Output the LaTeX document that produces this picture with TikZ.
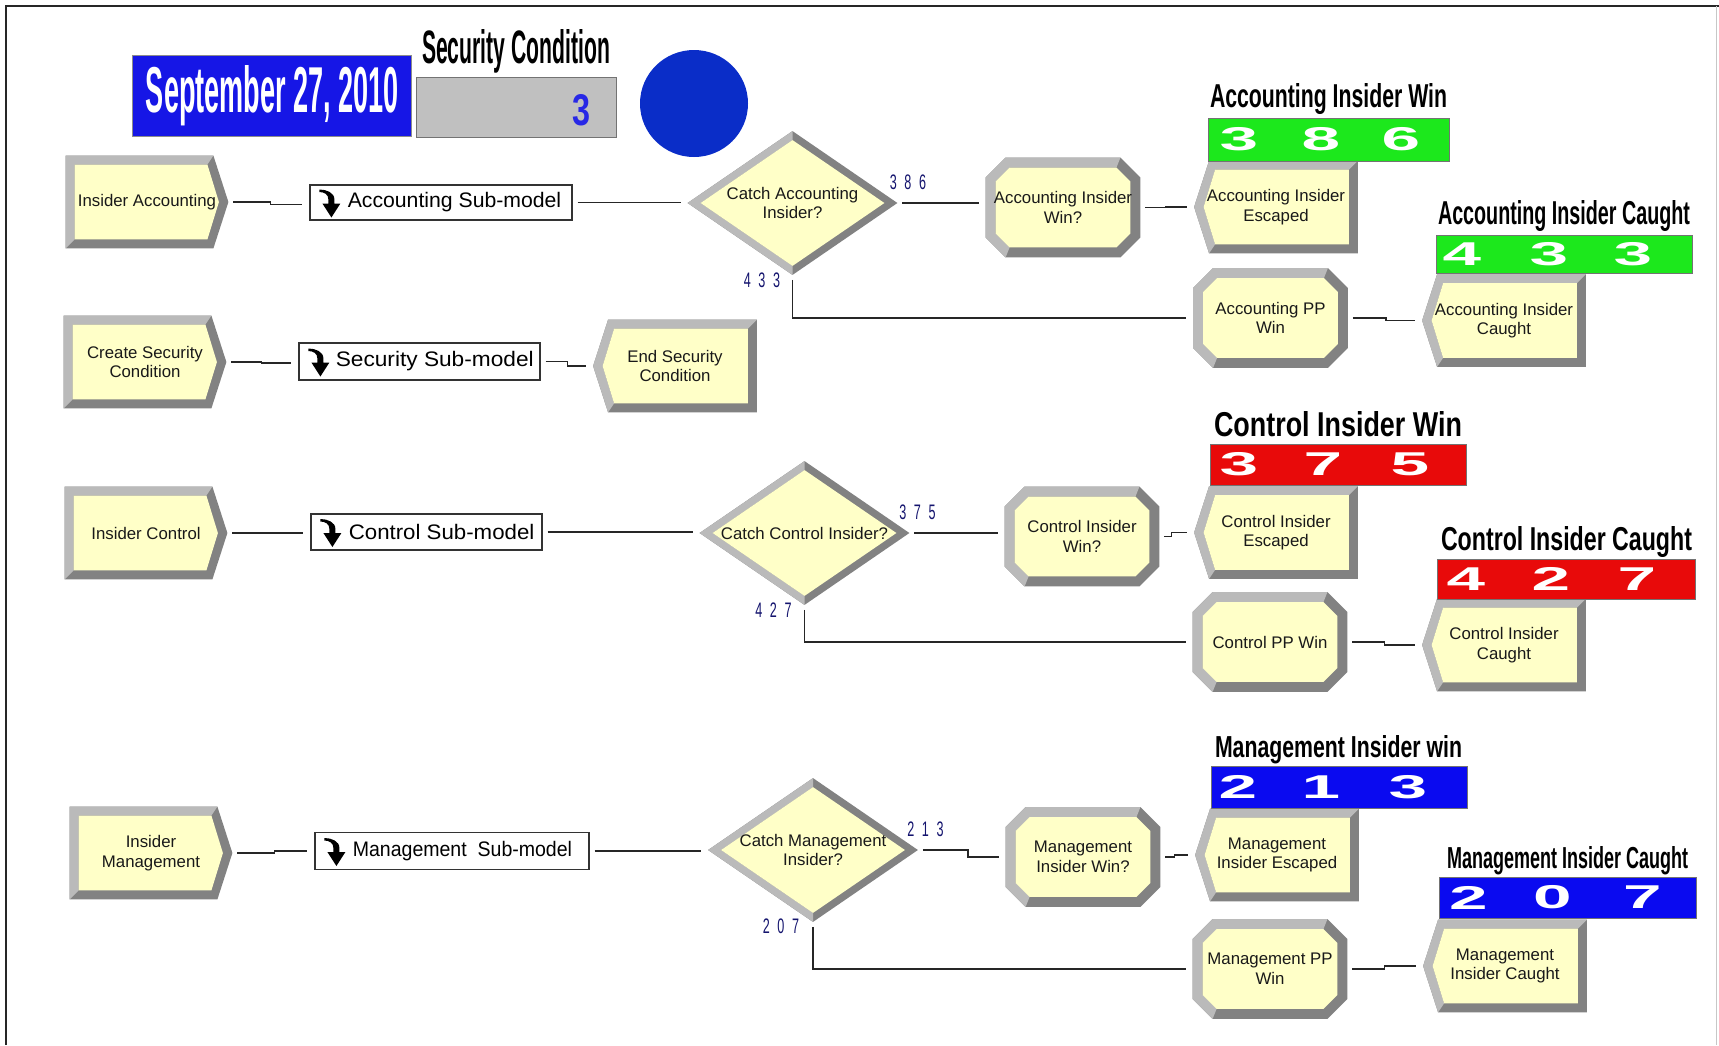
\documentclass[tikz,border=0pt]{standalone}
\usepackage{fontspec}
\setmainfont{Liberation Sans}
\usepackage{graphicx}
\usetikzlibrary{calc}
\pgfdeclarelayer{bg}
\pgfsetlayers{bg,main}

\definecolor{modfill}{RGB}{255,255,200}
\definecolor{bevlight}{RGB}{186,186,186}
\definecolor{bevdark}{RGB}{130,130,130}
\definecolor{cntgreen}{RGB}{28,232,28}
\definecolor{cntred}{RGB}{232,10,10}
\definecolor{cntblue}{RGB}{10,10,240}
\definecolor{dateblue}{RGB}{22,22,230}
\definecolor{dotblue}{RGB}{10,45,200}
\definecolor{tallynavy}{RGB}{20,20,110}
\definecolor{condgrey}{RGB}{192,192,192}
\definecolor{condval}{RGB}{40,40,230}

\newcommand\modfont{\fontsize{8.4}{9.8}\selectfont}
\newcommand\subfont{\fontsize{10.5}{12}\selectfont}

% Create module: body with a point on the right
\newcommand\createbody[1]{%
\begin{pgfonlayer}{bg}
\fill[bevdark] (#1.north west) -- ($(#1.north east)+(-15,0)$) -- (#1.east) -- ($(#1.south east)+(-15,0)$) -- (#1.south west) -- cycle;
\fill[bevlight] (#1.south west) -- (#1.north west) -- ($(#1.north east)+(-15,0)$) -- ($(#1.north east)+(-21,9)$) -- ($(#1.north west)+(9,9)$) -- ($(#1.south west)+(9,-9)$) -- cycle;
\fill[modfill] ($(#1.north west)+(9,9)$) -- ($(#1.north east)+(-21,9)$) -- ($(#1.east)+(-9.5,0)$) -- ($(#1.south east)+(-21,-9)$) -- ($(#1.south west)+(9,-9)$) -- cycle;
\end{pgfonlayer}}

% Dispose module: body with a point on the left
\newcommand\disposebody[1]{%
\begin{pgfonlayer}{bg}
\fill[bevdark] ($(#1.north west)+(15,0)$) -- (#1.north east) -- (#1.south east) -- ($(#1.south west)+(15,0)$) -- (#1.west) -- cycle;
\fill[bevlight] (#1.north east) -- ($(#1.north west)+(15,0)$) -- (#1.west) -- ($(#1.south west)+(15,0)$) -- ($(#1.south west)+(21,-9)$) -- ($(#1.west)+(9.5,0)$) -- ($(#1.north west)+(21,9)$) -- ($(#1.north east)+(-9,9)$) -- cycle;
\fill[modfill] ($(#1.north west)+(21,9)$) -- ($(#1.north east)+(-9,9)$) -- ($(#1.south east)+(-9,-9)$) -- ($(#1.south west)+(21,-9)$) -- ($(#1.west)+(9.5,0)$) -- cycle;
\end{pgfonlayer}}

% Process module: chamfered rectangle
\newcommand\octbody[1]{%
\begin{pgfonlayer}{bg}
\fill[bevdark] ($(#1.north west)+(20,0)$) -- ($(#1.north east)+(-20,0)$) -- ($(#1.north east)+(0,20)$) -- ($(#1.south east)+(0,-20)$) -- ($(#1.south east)+(-20,0)$) -- ($(#1.south west)+(20,0)$) -- ($(#1.south west)+(0,-20)$) -- ($(#1.north west)+(0,20)$) -- cycle;
\fill[bevlight] ($(#1.south west)+(20,0)$) -- ($(#1.south west)+(0,-20)$) -- ($(#1.north west)+(0,20)$) -- ($(#1.north west)+(20,0)$) -- ($(#1.north east)+(-20,0)$) -- ($(#1.north east)+(-24,10)$) -- ($(#1.north west)+(24,10)$) -- ($(#1.north west)+(10,24)$) -- ($(#1.south west)+(10,-24)$) -- ($(#1.south west)+(24,-10)$) -- cycle;
\fill[modfill] ($(#1.north west)+(24,10)$) -- ($(#1.north east)+(-24,10)$) -- ($(#1.north east)+(-10,24)$) -- ($(#1.south east)+(-10,-24)$) -- ($(#1.south east)+(-24,-10)$) -- ($(#1.south west)+(24,-10)$) -- ($(#1.south west)+(10,-24)$) -- ($(#1.north west)+(10,24)$) -- cycle;
\end{pgfonlayer}}

% Decide module: diamond
\newcommand\diabody[1]{%
\begin{pgfonlayer}{bg}
\fill[bevdark] (#1.north) -- (#1.east) -- (#1.south) -- (#1.west) -- cycle;
\fill[bevlight] (#1.west) -- (#1.north) -- ($(#1.north)+(0,9)$) -- ($(#1.west)+(13,0)$) -- ($(#1.south)+(0,-9)$) -- (#1.south) -- cycle;
\fill[modfill] ($(#1.north)+(0,9)$) -- ($(#1.east)+(-13,0)$) -- ($(#1.south)+(0,-9)$) -- ($(#1.west)+(13,0)$) -- cycle;
\end{pgfonlayer}}

% Sub-model icon: bent arrow pointing down
\newcommand\subicon[1]{%
\begin{scope}[shift={(#1.west)}]
\fill[black] (10,-13) .. controls (17,-13) and (25,-10) .. (25,-3) -- (25,1) -- (31,1) -- (22,15) -- (13,1) -- (19,1) -- (19,-3) .. controls (19,-8) and (15,-10.5) .. (10,-10.5) -- cycle;
\end{scope}}

\tikzset{
  module/.style={inner sep=0pt, align=center, font=\modfont, text=black!90},
  createmod/.style={module, minimum width=81pt, minimum height=46pt},
  disposemod/.style={module, minimum width=81.5pt, minimum height=46pt},
  octmod/.style={module, minimum width=77pt, minimum height=49.5pt},
  decidemod/.style={module, minimum width=104.5pt, minimum height=71.5pt},
  subbox/.style={draw=black!80, line width=0.6pt, fill=white, inner sep=0pt},
  subtxt/.style={inner sep=0pt, anchor=west, font=\subfont},
  conn/.style={draw=black!85, line width=0.65pt, shorten <=2.5pt, shorten >=3.5pt},
  ttl/.style={inner sep=0pt, anchor=base},
  cntbox/.style={inner sep=0pt, draw=black!55, line width=0.5pt},
  cdigit/.style={inner sep=0pt, text=white, font=\fontsize{16.5}{18}\selectfont\bfseries},
  tally/.style={inner sep=0pt, text=tallynavy, font=\fontsize{10.5}{12}\selectfont},
}

\newcommand\tallytext[3]{\scalebox{0.6}[1]{#1\hspace{6.4pt}#2\hspace{6.4pt}#3}}
\newcommand\wide[1]{\scalebox{2.1}[1]{#1}}

\begin{document}
\begin{tikzpicture}[x=0.5pt,y=-0.5pt]
\useasboundingbox (0,0) rectangle (1719,1045);
\begin{pgfonlayer}{bg}
\fill[white] (0,0) rectangle (1719,1045);
\end{pgfonlayer}

% frame
\draw[black!85, line width=1pt] (5.5,1045) -- (5.5,5.5) -- (1719,5.5);
\draw[black!22, line width=0.5pt] (1716,5.5) -- (1716,1045);

% header: date, security condition, indicator
\node[fill=dateblue, draw=black!45, line width=0.5pt, minimum width=139.5pt, minimum height=40.5pt, inner sep=0pt] (datebox) at (271.5,95.5) {};
\node[ttl, text=white] (datetxt) at (272.5,112) {\resizebox{126.5pt}{23.5pt}{\bfseries September 27, 2010}};
\node[ttl] (sectitle) at (516,63.5) {\resizebox{94pt}{17pt}{\bfseries Security Condition}};
\node[fill=condgrey, draw=black!55, line width=0.5pt, minimum width=100pt, minimum height=30pt, inner sep=0pt] (secbox) at (516,107) {};
\node[ttl, text=condval] (secval) at (581,125) {\resizebox{9pt}{15.5pt}{\bfseries 3}};
\fill[dotblue] (694,103.5) circle[x radius=27pt, y radius=26.75pt];

% ---------------- accounting row
\node[createmod] (ia) at (147,202) {Insider Accounting};
\createbody{ia}
\node[subbox, minimum width=131pt, minimum height=17.5pt] (accsub) at (441,202.5) {};
\subicon{accsub}
\node[subtxt] (accsubtxt) at ([xshift=19pt]accsub.west) {\scalebox{1.01}[1]{Accounting Sub-model}};
\node[decidemod] (catchA) at (792.5,203) {Catch Accounting\\Insider?};
\diabody{catchA}
\node[octmod] (accwin) at (1063,207.5) {Accounting Insider\\Win?};
\octbody{accwin}
\node[disposemod] (accesc) at (1276,207) {Accounting Insider\\Escaped};
\disposebody{accesc}
\node[octmod] (accpp) at (1270.5,318) {Accounting PP\\Win};
\octbody{accpp}
\node[disposemod] (acccaught) at (1504,320.5) {Accounting Insider\\Caught};
\disposebody{acccaught}

\node[tally] (t386) at (908,182) {\tallytext386};
\node[tally] (t433) at (762,280) {\tallytext433};

\node[ttl] (aiwt) at (1328.5,107) {\resizebox{118.5pt}{12pt}{\bfseries Accounting Insider Win}};
\node[cntbox, fill=cntgreen, minimum width=120.5pt, minimum height=21.5pt] (g1) at (1328.5,139.5) {};
\node[cdigit] (g1a) at (1239,139.5) {\wide{3}};
\node[cdigit] (g1b) at (1321,139.5) {\wide{8}};
\node[cdigit] (g1c) at (1401,139.5) {\wide{6}};

\node[ttl] (aict) at (1564,224) {\resizebox{126pt}{12pt}{\bfseries Accounting Insider Caught}};
\node[cntbox, fill=cntgreen, minimum width=128pt, minimum height=19pt] (g2) at (1564,254) {};
\node[cdigit] (g2a) at (1462,254) {\wide{4}};
\node[cdigit] (g2b) at (1549,254) {\wide{3}};
\node[cdigit] (g2c) at (1633,254) {\wide{3}};

\draw[conn] (ia.east) -- ++(42,0) |- ([yshift=-1pt]accsub.west);
\draw[conn] (accsub.east) -- (accsub.east -| catchA.west);
\draw[conn] (catchA.east) -- (catchA.east -| accwin.west);
\draw[conn] (accwin.east) -- ++(25,0) |- (accesc.west);
\draw[conn] (catchA.south) |- (accpp.west);
\draw[conn] (accpp.east) -- ++(38,0) |- (acccaught.west);

% ---------------- security row
\node[createmod] (csc) at (145,362) {Create Security\\Condition};
\createbody{csc}
\node[subbox, minimum width=120.5pt, minimum height=18.5pt] (secsub) at (419.5,361.5) {};
\subicon{secsub}
\node[subtxt] (secsubtxt) at ([xshift=18.5pt]secsub.west) {\scalebox{1.08}[1]{Security Sub-model}};
\node[disposemod] (esc) at (675,366) {End Security\\Condition};
\disposebody{esc}

\draw[conn] (csc.east) -- ++(35,0) |- ([yshift=-0.8pt]secsub.west);
\draw[conn] (secsub.east) -- ++(27,0) |- (esc.west);

% ---------------- control row
\node[createmod] (ictl) at (146,533) {Insider Control};
\createbody{ictl}
\node[subbox, minimum width=115.5pt, minimum height=18pt] (ctlsub) at (426.5,532) {};
\subicon{ctlsub}
\node[subtxt] (ctlsubtxt) at ([xshift=19pt]ctlsub.west) {\scalebox{1.06}[1]{Control Sub-model}};
\node[decidemod] (catchC) at (804.5,533) {Catch Control Insider?};
\diabody{catchC}
\node[octmod] (ctlwin) at (1082,536.5) {Control Insider\\Win?};
\octbody{ctlwin}
\node[disposemod] (ctlesc) at (1276,532.5) {Control Insider\\Escaped};
\disposebody{ctlesc}
\node[octmod] (ctlpp) at (1270,642) {Control PP Win};
\octbody{ctlpp}
\node[disposemod] (ctlcaught) at (1504,645) {Control Insider\\Caught};
\disposebody{ctlcaught}

\node[tally] (t375) at (917.5,512.5) {\tallytext375};
\node[tally] (t427) at (773.5,610) {\tallytext427};

\node[ttl] (ciwt) at (1338,436) {\resizebox{124pt}{12.5pt}{\bfseries Control Insider Win}};
\node[cntbox, fill=cntred, minimum width=128pt, minimum height=20.5pt] (r1) at (1338,464.5) {};
\node[cdigit] (r1a) at (1239,464.5) {\wide{3}};
\node[cdigit] (r1b) at (1323,464.5) {\wide{7}};
\node[cdigit] (r1c) at (1410,464.5) {\wide{5}};

\node[ttl] (cict) at (1566.5,550) {\resizebox{125.5pt}{12pt}{\bfseries Control Insider Caught}};
\node[cntbox, fill=cntred, minimum width=129pt, minimum height=20pt] (r2) at (1566,579) {};
\node[cdigit] (r2a) at (1466,579) {\wide{4}};
\node[cdigit] (r2b) at (1551,579) {\wide{2}};
\node[cdigit] (r2c) at (1637,579) {\wide{7}};

\draw[conn] (ictl.east) -- ++(42,0) |- ([yshift=-0.5pt]ctlsub.west);
\draw[conn] (ctlsub.east) -- (ctlsub.east -| catchC.west);
\draw[conn] (catchC.east) -- (catchC.east -| ctlwin.west);
\draw[conn] (ctlwin.east) -- ++(12,0) |- (ctlesc.west);
\draw[conn] (catchC.south) |- (ctlpp.west);
\draw[conn] (ctlpp.east) -- ++(37,0) |- (ctlcaught.west);

% ---------------- management row
\node[createmod] (imgmt) at (151,853) {Insider\\Management};
\createbody{imgmt}
\node[subbox, minimum width=137pt, minimum height=18.5pt] (mgmtsub) at (452,851) {};
\subicon{mgmtsub}
\node[subtxt] (mgmtsubtxt) at ([xshift=19pt]mgmtsub.west) {\scalebox{0.93}[1]{Management\ \ Sub-model}};
\node[decidemod] (catchM) at (813,850) {Catch Management\\Insider?};
\diabody{catchM}
\node[octmod] (mgmtwin) at (1083,857) {Management\\Insider Win?};
\octbody{mgmtwin}
\node[disposemod] (mgmtesc) at (1277,855) {Management\\Insider Escaped};
\disposebody{mgmtesc}
\node[octmod] (mgmtpp) at (1270,969) {Management PP\\Win};
\octbody{mgmtpp}
\node[disposemod] (mgmtcaught) at (1505,966) {Management\\Insider Caught};
\disposebody{mgmtcaught}

\node[tally] (t213) at (925.5,829) {\tallytext213};
\node[tally] (t207) at (781,926.5) {\tallytext207};

\node[ttl] (miwt) at (1338.5,757) {\resizebox{123.5pt}{11pt}{\bfseries Management Insider win}};
\node[cntbox, fill=cntblue, minimum width=128pt, minimum height=21pt] (b1) at (1339,787) {};
\node[cdigit] (b1a) at (1238,787) {\wide{2}};
\node[cdigit] (b1b) at (1321,787) {\wide{1}};
\node[cdigit] (b1c) at (1408,787) {\wide{3}};

\node[ttl] (mict) at (1567.5,868) {\resizebox{120.5pt}{11pt}{\bfseries Management Insider Caught}};
\node[cntbox, fill=cntblue, minimum width=128.5pt, minimum height=20.5pt] (b2) at (1567.5,897.5) {};
\node[cdigit] (b2a) at (1468.5,897.5) {\wide{2}};
\node[cdigit] (b2b) at (1552.5,897.5) {\wide{0}};
\node[cdigit] (b2c) at (1642.5,897.5) {\wide{7}};

\draw[conn] (imgmt.east) -- ++(42,0) |- (mgmtsub.west);
\draw[conn] (mgmtsub.east) -- (mgmtsub.east -| catchM.west);
\draw[conn] (catchM.east) -- ++(50,0) |- (mgmtwin.west);
\draw[conn] (mgmtwin.east) -- ++(14,0) |- (mgmtesc.west);
\draw[conn] (catchM.south) |- (mgmtpp.west);
\draw[conn] (mgmtpp.east) -- ++(37,0) |- (mgmtcaught.west);
\end{tikzpicture}
\end{document}
